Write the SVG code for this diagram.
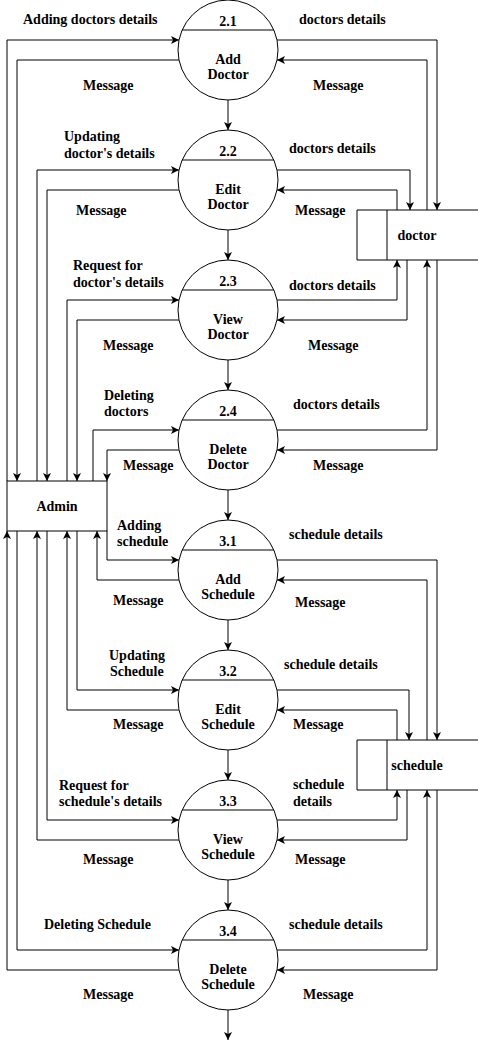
<svg xmlns="http://www.w3.org/2000/svg" width="478" height="1049" viewBox="0 0 478 1049">
<style>
.t{font-family:"Liberation Serif","Times New Roman",serif;font-size:14px;font-weight:bold;fill:#000}
.m{text-anchor:middle}
.c{fill:#fff;stroke:#000;stroke-width:1}
.l{fill:none;stroke:#000;stroke-width:1}
.e{fill:none;stroke:#000;stroke-width:1;marker-end:url(#a)}
</style>
<defs>
<marker id="a" markerUnits="userSpaceOnUse" markerWidth="9" markerHeight="8" refX="8" refY="4" orient="auto">
<path d="M0,0 L8,4 L0,8 L2,4 z" fill="#000"/>
</marker>
</defs>
<rect width="478" height="1049" fill="#fff"/>
<g id="connectors">
<!-- vertical flow -->
<path class="e" d="M228,100 V130"/>
<path class="e" d="M228,230 V260"/>
<path class="e" d="M228,360 V390"/>
<path class="e" d="M228,490 V520"/>
<path class="e" d="M228,620 V650"/>
<path class="e" d="M228,750 V780"/>
<path class="e" d="M228,880 V910"/>
<path class="e" d="M228,1010 V1040"/>
<!-- admin top to doctor processes -->
<path class="e" d="M7,481 V40 H179"/>
<path class="e" d="M179,60 H17 V481"/>
<path class="e" d="M37,481 V170 H179"/>
<path class="e" d="M179,190 H47 V481"/>
<path class="e" d="M67,481 V300 H179"/>
<path class="e" d="M179,320 H77 V481"/>
<path class="e" d="M93,481 V430 H179"/>
<path class="e" d="M179,450 H107 V481"/>
<!-- admin bottom to schedule processes -->
<path class="e" d="M107,531 V560 H179"/>
<path class="e" d="M179,580 H97 V531"/>
<path class="e" d="M77,531 V690 H179"/>
<path class="e" d="M179,710 H67 V531"/>
<path class="e" d="M47,531 V820 H179"/>
<path class="e" d="M179,840 H37 V531"/>
<path class="e" d="M17,531 V950 H179"/>
<path class="e" d="M179,970 H7 V531"/>
<!-- doctor store -->
<path class="e" d="M277,40 H437 V210"/>
<path class="e" d="M427,210 V60 H277"/>
<path class="e" d="M277,170 H410 V210"/>
<path class="e" d="M397,210 V190 H277"/>
<path class="e" d="M277,300 H397 V260"/>
<path class="e" d="M407,260 V320 H277"/>
<path class="e" d="M277,430 H427 V260"/>
<path class="e" d="M437,260 V450 H277"/>
<!-- schedule store -->
<path class="e" d="M277,560 H437 V740"/>
<path class="e" d="M427,740 V580 H277"/>
<path class="e" d="M277,690 H409 V740"/>
<path class="e" d="M397,740 V710 H277"/>
<path class="e" d="M277,820 H397 V790"/>
<path class="e" d="M407,790 V840 H277"/>
<path class="e" d="M277,950 H427 V790"/>
<path class="e" d="M437,790 V970 H277"/>
</g>
<g id="admin">
<rect class="c" x="7" y="481" width="100" height="50"/>
<text class="t m" x="57" y="511">Admin</text>
</g>
<g id="doctor">
<path class="c" d="M478,210 H357 V260 H478"/>
<path class="l" d="M387,210 V260"/>
<text class="t m" x="417" y="240">doctor</text>
</g>
<g id="schedule">
<path class="c" d="M478,740 H357 V790 H478"/>
<path class="l" d="M387,740 V790"/>
<text class="t m" x="417" y="770">schedule</text>
</g>
<g id="p21">
<circle class="c" cx="228" cy="50" r="50"/>
<path class="l" d="M182,30 H274"/>
<text class="t m" x="228" y="26">2.1</text>
<text class="t m" x="228" y="64">Add</text>
<text class="t m" x="228" y="79">Doctor</text>
</g>
<g id="p22">
<circle class="c" cx="228" cy="180" r="50"/>
<path class="l" d="M182,160 H274"/>
<text class="t m" x="228" y="156">2.2</text>
<text class="t m" x="228" y="194">Edit</text>
<text class="t m" x="228" y="209">Doctor</text>
</g>
<g id="p23">
<circle class="c" cx="228" cy="310" r="50"/>
<path class="l" d="M182,290 H274"/>
<text class="t m" x="228" y="286">2.3</text>
<text class="t m" x="228" y="324">View</text>
<text class="t m" x="228" y="339">Doctor</text>
</g>
<g id="p24">
<circle class="c" cx="228" cy="440" r="50"/>
<path class="l" d="M182,420 H274"/>
<text class="t m" x="228" y="416">2.4</text>
<text class="t m" x="228" y="454">Delete</text>
<text class="t m" x="228" y="469">Doctor</text>
</g>
<g id="p31">
<circle class="c" cx="228" cy="570" r="50"/>
<path class="l" d="M182,550 H274"/>
<text class="t m" x="228" y="546">3.1</text>
<text class="t m" x="228" y="584">Add</text>
<text class="t m" x="228" y="599">Schedule</text>
</g>
<g id="p32">
<circle class="c" cx="228" cy="700" r="50"/>
<path class="l" d="M182,680 H274"/>
<text class="t m" x="228" y="676">3.2</text>
<text class="t m" x="228" y="714">Edit</text>
<text class="t m" x="228" y="729">Schedule</text>
</g>
<g id="p33">
<circle class="c" cx="228" cy="830" r="50"/>
<path class="l" d="M182,810 H274"/>
<text class="t m" x="228" y="806">3.3</text>
<text class="t m" x="228" y="844">View</text>
<text class="t m" x="228" y="859">Schedule</text>
</g>
<g id="p34">
<circle class="c" cx="228" cy="960" r="50"/>
<path class="l" d="M182,940 H274"/>
<text class="t m" x="228" y="936">3.4</text>
<text class="t m" x="228" y="974">Delete</text>
<text class="t m" x="228" y="989">Schedule</text>
</g>
<g id="labels">
<text class="t" x="23" y="24">Adding doctors details</text>
<text class="t" x="83" y="90">Message</text>
<text class="t" x="299" y="24">doctors details</text>
<text class="t" x="313" y="90">Message</text>
<text class="t" x="64" y="141">Updating</text>
<text class="t" x="64" y="158">doctor's details</text>
<text class="t" x="76" y="215">Message</text>
<text class="t" x="289" y="153">doctors details</text>
<text class="t" x="295" y="215">Message</text>
<text class="t" x="73" y="270">Request for</text>
<text class="t" x="73" y="287">doctor's details</text>
<text class="t" x="103" y="350">Message</text>
<text class="t" x="289" y="290">doctors details</text>
<text class="t" x="308" y="350">Message</text>
<text class="t" x="104" y="400">Deleting</text>
<text class="t" x="104" y="416">doctors</text>
<text class="t" x="123" y="470">Message</text>
<text class="t" x="293" y="409">doctors details</text>
<text class="t" x="313" y="470">Message</text>
<text class="t" x="117" y="530">Adding</text>
<text class="t" x="117" y="546">schedule</text>
<text class="t" x="113" y="605">Message</text>
<text class="t" x="289" y="539">schedule details</text>
<text class="t" x="295" y="607">Message</text>
<text class="t" x="109" y="660">Updating</text>
<text class="t" x="110" y="676">Schedule</text>
<text class="t" x="113" y="729">Message</text>
<text class="t" x="284" y="669">schedule details</text>
<text class="t" x="293" y="729">Message</text>
<text class="t" x="59" y="790">Request for</text>
<text class="t" x="59" y="806">schedule's details</text>
<text class="t" x="83" y="864">Message</text>
<text class="t" x="293" y="789">schedule</text>
<text class="t" x="293" y="806">details</text>
<text class="t" x="295" y="864">Message</text>
<text class="t" x="44" y="929">Deleting Schedule</text>
<text class="t" x="83" y="999">Message</text>
<text class="t" x="289" y="929">schedule details</text>
<text class="t" x="303" y="999">Message</text>
</g>
</svg>
